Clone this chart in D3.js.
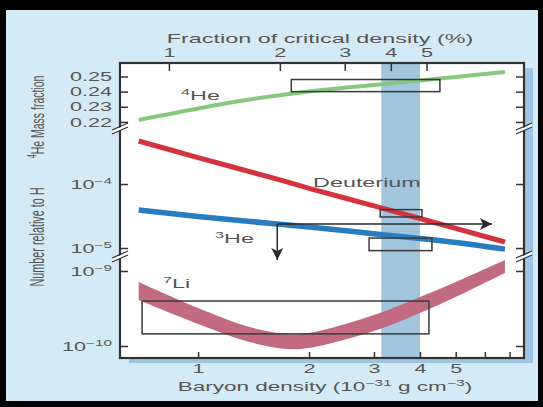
<!DOCTYPE html>
<html>
<head>
<meta charset="utf-8">
<script src="https://cdn.jsdelivr.net/npm/d3@7"></script>
<style>
  body { margin: 0; background: #d4eaf6; }
  svg { display: block; }
  text { font-family: "Liberation Sans", Arial, sans-serif; }
</style>
</head>
<body>
<svg id="chart" width="543" height="407"></svg>
<script>
// ---- data (baryon density in 1e-31 g/cm3) ----
const baryonHe4 = [0.69, 1.0, 1.38, 2.0, 3.0, 4.0, 5.0, 6.8];
const he4Mass   = [0.2213, 0.2289, 0.2348, 0.2401, 0.2444, 0.2474, 0.2497, 0.2530];

const baryonD   = [0.69, 1.0, 1.64, 2.0, 3.0, 4.0, 5.0, 6.8];
const deuterium = [4.70e-4, 2.59e-4, 1.19e-4, 8.57e-5, 4.55e-5, 2.89e-5, 2.02e-5, 1.24e-5];

const baryonHe3 = [0.69, 1.0, 1.64, 2.0, 3.12, 4.0, 5.0, 6.8];
const he3       = [3.93e-5, 3.10e-5, 2.37e-5, 2.13e-5, 1.63e-5, 1.41e-5, 1.22e-5, 9.6e-6];

const baryonLi  = [0.69, 1.0, 1.38, 1.74, 2.0, 3.0, 4.0, 5.0, 6.8];
const li7High   = [7.13e-10, 3.21e-10, 1.79e-10, 1.45e-10, 1.49e-10, 2.59e-10, 4.5e-10, 7.13e-10, 1.40e-9];
const li7Low    = [4.1e-10, 1.97e-10, 1.13e-10, 9.1e-11, 9.4e-11, 1.58e-10, 2.75e-10, 4.5e-10, 9.4e-10];

// observational boxes: [xMin, xMax, yMin, yMax]
const he4Box = [1.79, 4.53, 0.240, 0.248];
const dBox   = [3.12, 4.05, 3.05e-5, 3.98e-5];
const he3Box = [2.91, 4.31, 9.1e-6, 1.43e-5];
const liBox  = [0.705, 4.23, 1.45e-10, 3.98e-10];

const concordance = [3.14, 4.0];            // shaded band
const he3ArrowX = [1.64, 6.27];             // horizontal limit arrow
const he3ArrowY = 2.37e-5;
const he3ArrowTip = 6.5e-6;                 // downward arrow tip

const bottomTicks = [1, 2, 3, 4, 5, 6, 7];
const topTicks = [1, 2, 3, 4, 5];
const he4Ticks = [0.22, 0.23, 0.24, 0.25];
const midTicks = [1e-4, 1e-5];
const lowTicks = [1e-9, 1e-10];

// ---- layout ----
const SX = 1.8;            // the figure is stretched horizontally
const L = 120, R = 524, T = 63, B = 358, BR1 = 128, BR2 = 256;
const bg = "#d4eaf6", ink = "#333", txt = "#565656";

const svg = d3.select("#chart");

const x = d3.scaleLog().domain([0.614, 7.66]).range([L, R]);
const xFrac = d3.scaleLog().domain([0.614 * 1.2, 7.66 * 1.2]).range([L, R]);
const yHe = d3.scaleLinear().domain([0.216, 0.2589]).range([BR1, T]);
const yMid = d3.scaleLog().domain([7.5e-6, 7.5e-4]).range([BR2, BR1]);
const yLow = d3.scaleLog().domain([Math.pow(10, -10.16), Math.pow(10, -8.8)]).range([B, BR2]);

// background and black frame
svg.append("rect").attr("width", 543).attr("height", 407).attr("fill", bg);
svg.append("rect").attr("width", 543).attr("height", 10).attr("fill", "#000");
svg.append("rect").attr("width", 6).attr("height", 407).attr("fill", "#000");
svg.append("rect").attr("x", 538).attr("width", 5).attr("height", 407).attr("fill", "#000");
svg.append("rect").attr("y", 401).attr("width", 543).attr("height", 6).attr("fill", "#000");

// plot shadow + white area
svg.append("rect").attr("x", L + 9).attr("y", T + 5).attr("width", R - L).attr("height", B - T).attr("fill", "#9ec5e4");
svg.append("rect").attr("x", L).attr("y", T).attr("width", R - L).attr("height", B - T).attr("fill", "#fff");

// concordance band
svg.append("rect")
    .attr("x", x(concordance[0])).attr("y", T)
    .attr("width", x(concordance[1]) - x(concordance[0])).attr("height", B - T)
    .attr("fill", "#a1c5dc");

// Li band
const liArea = d3.area()
    .x((d, i) => x(baryonLi[i]))
    .y0((d, i) => yLow(li7Low[i]))
    .y1((d, i) => yLow(li7High[i]))
    .curve(d3.curveCatmullRom);
svg.append("path").datum(baryonLi).attr("d", liArea).attr("fill", "#c26a80");

function curve(xs, ys, yScale, color, w) {
    const line = d3.line()
        .x((d, i) => x(xs[i]))
        .y((d, i) => yScale(ys[i]))
        .curve(d3.curveCatmullRom);
    svg.append("path").datum(xs).attr("d", line)
        .attr("fill", "none").attr("stroke", color).attr("stroke-width", w);
}
curve(baryonHe4, he4Mass, yHe, "#86c97e", 4);
curve(baryonD, deuterium, yMid, "#d5323f", 5);
curve(baryonHe3, he3, yMid, "#2a7cc1", 5.5);

function box(b, yScale) {
    svg.append("rect")
        .attr("x", x(b[0])).attr("y", yScale(b[3]))
        .attr("width", x(b[1]) - x(b[0])).attr("height", yScale(b[2]) - yScale(b[3]))
        .attr("fill", "none").attr("stroke", "#3a3a3a").attr("stroke-width", 1.5);
}
box(he4Box, yHe);
box(dBox, yMid);
box(he3Box, yMid);
box(liBox, yLow);

// arrows
const defs = svg.append("defs");
defs.append("marker").attr("id", "head")
    .attr("viewBox", "0 0 12 12").attr("refX", 12).attr("refY", 6)
    .attr("markerWidth", 13).attr("markerHeight", 12)
    .attr("markerUnits", "userSpaceOnUse").attr("orient", "auto")
    .append("path").attr("d", "M0,0 L12,6 L0,12 L3,6 Z").attr("fill", "#2b2b2b");
svg.append("line")
    .attr("x1", x(he3ArrowX[0])).attr("x2", x(he3ArrowX[1]))
    .attr("y1", yMid(he3ArrowY)).attr("y2", yMid(he3ArrowY))
    .attr("stroke", "#2b2b2b").attr("stroke-width", 1.5).attr("marker-end", "url(#head)");
svg.append("line")
    .attr("x1", x(he3ArrowX[0])).attr("x2", x(he3ArrowX[0]))
    .attr("y1", yMid(he3ArrowY)).attr("y2", yMid(he3ArrowTip))
    .attr("stroke", "#2b2b2b").attr("stroke-width", 1.5).attr("marker-end", "url(#head)");

// frame
svg.append("rect").attr("x", L).attr("y", T).attr("width", R - L).attr("height", B - T)
    .attr("fill", "none").attr("stroke", ink).attr("stroke-width", 2.2);

// ---- axes ----
function styleAxis(g) {
    g.select(".domain").remove();
    g.selectAll(".tick line").attr("stroke", ink).attr("stroke-width", 1.5);
    g.selectAll(".tick text").attr("fill", txt).attr("font-size", 12);
}
function powLabel(sel) {
    sel.each(function (d) {
        const t = d3.select(this).text("10");
        t.append("tspan").attr("dy", -5).attr("font-size", 8.5)
            .text("\u2212" + Math.abs(Math.round(Math.log10(d))));
    });
}

function leftAxis(scale, ticks, fmt) {
    const g = svg.append("g").attr("transform", `translate(${L},0)`)
        .call(d3.axisLeft(scale).tickValues(ticks).tickSize(-8).tickFormat(fmt || (() => "")));
    styleAxis(g);
    const t = g.selectAll(".tick text")
        .attr("x", 0).attr("dy", "0.35em")
        .attr("transform", `translate(-8,0) scale(${SX},1)`);
    if (!fmt) powLabel(t);
}
leftAxis(yHe, he4Ticks, d3.format(".2f"));
leftAxis(yMid, midTicks);
leftAxis(yLow, lowTicks);

[[yHe, he4Ticks], [yMid, midTicks], [yLow, lowTicks]].forEach(([s, tk]) => {
    const g = svg.append("g").attr("transform", `translate(${R},0)`)
        .call(d3.axisRight(s).tickValues(tk).tickSize(-8).tickFormat(() => ""));
    styleAxis(g);
});

const gTop = svg.append("g").attr("transform", `translate(0,${T})`)
    .call(d3.axisTop(xFrac).tickValues(topTicks).tickSize(-8).tickFormat(d3.format("d")));
styleAxis(gTop);
gTop.selectAll(".tick text").attr("y", 0).attr("dy", "0.35em")
    .attr("transform", `translate(0,-10) scale(${SX},1)`);

const gBot = svg.append("g").attr("transform", `translate(0,${B})`)
    .call(d3.axisBottom(x).tickValues(bottomTicks).tickSize(-6).tickFormat(d => d <= 5 ? d : ""));
styleAxis(gBot);
gBot.selectAll(".tick text").attr("y", 0).attr("dy", "0.35em")
    .attr("transform", `translate(0,11) scale(${SX},1)`);

// axis breaks
function breakMark(cx, cy) {
    const g = svg.append("g").attr("transform", `translate(${cx},${cy})`);
    g.append("polygon").attr("points", "-8,3 8,-4 8,-1 -8,6").attr("fill", "#fff");
    g.append("line").attr("x1", -8).attr("y1", 2).attr("x2", 8).attr("y2", -5)
        .attr("stroke", ink).attr("stroke-width", 1.3);
    g.append("line").attr("x1", -8).attr("y1", 6).attr("x2", 8).attr("y2", -1)
        .attr("stroke", ink).attr("stroke-width", 1.3);
}
breakMark(L, BR1); breakMark(R, BR1); breakMark(L, BR2); breakMark(R, BR2);

// ---- text ----
function label(px, py, segs, size, anchor, rot) {
    const t = svg.append("text")
        .attr("transform", `translate(${px},${py}) scale(${SX},1)` + (rot ? ` rotate(${rot})` : ""))
        .attr("font-size", size).attr("text-anchor", anchor || "start").attr("fill", txt);
    let up = false;
    const shift = size * 0.4;
    segs.forEach(s => {
        const ts = t.append("tspan").text(s[0]);
        if (s[1]) {
            ts.attr("font-size", size * 0.7);
            if (!up) { ts.attr("dy", -shift); up = true; }
        } else if (up) { ts.attr("dy", shift); up = false; }
    });
}
label(320, 43, [["Fraction of critical density (%)"]], 13, "middle");
label(325, 391, [["Baryon density (10"], ["\u221231", 1], [" g cm"], ["\u22123", 1], [")"]], 12.5, "middle");
label(44, 117, [["4", 1], ["He Mass fraction"]], 10.5, "middle", -90);
label(44, 237, [["Number relative to H"]], 10.8, "middle", -90);

label(181, 100, [["4", 1], ["He"]], 13);
label(313, 187, [["Deuterium"]], 13);
label(215, 243, [["3", 1], ["He"]], 13);
label(163, 288, [["7", 1], ["Li"]], 13);
</script>
</body>
</html>
